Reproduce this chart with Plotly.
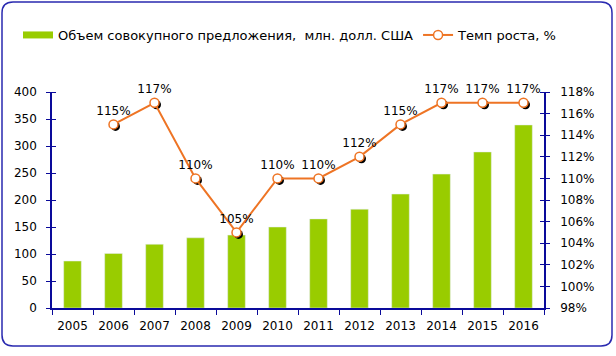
import plotly.graph_objects as go

years = ["2005", "2006", "2007", "2008", "2009", "2010", "2011", "2012", "2013", "2014", "2015", "2016"]
supply = [87, 101, 118, 130, 135, 150, 165, 183, 211, 248, 289, 339]
growth_years = ["2006", "2007", "2008", "2009", "2010", "2011", "2012", "2013", "2014", "2015", "2016"]
growth = [115, 117, 110, 105, 110, 110, 112, 115, 117, 117, 117]
left_ticks = [0, 50, 100, 150, 200, 250, 300, 350, 400]
right_ticks = [98, 100, 102, 104, 106, 108, 110, 112, 114, 116, 118]

W, H = 616, 356
ML, MR, MT, MB = 52, 72, 92, 48
PW, PH = W - ML - MR, H - MT - MB

AX = "#0a0a9a"
FONT = "DejaVu Sans"
BAR = "#99CC00"
LINE = "#EE7424"
BAR_NAME = "Объем совокупного предложения,  млн. долл. США"

dx = 2.0 / (PW / len(years))
dy = 2.0 * 20 / PH
eps_l = 1e-4
eps_r = 1e-6

fig = go.Figure()
fig.add_trace(go.Bar(x=years, y=supply, marker_color=BAR, name=BAR_NAME, showlegend=False,
                     legendgroup="bar"))
# legend swatch for the bars (no data)
fig.add_trace(go.Scatter(x=[None], y=[None], mode="lines", name=BAR_NAME, legendgroup="bar",
                         line=dict(color=BAR, width=7), hoverinfo="skip"))
# shadow markers (shifted axes)
fig.add_trace(go.Scatter(x=growth_years, y=growth, mode="markers", xaxis="x2", yaxis="y2",
                         marker=dict(size=9, color="black"), showlegend=False, hoverinfo="skip"))
fig.add_trace(go.Scatter(x=growth_years, y=growth, mode="lines+markers+text", xaxis="x3", yaxis="y3",
                         name="Темп роста, %",
                         line=dict(color=LINE, width=2),
                         marker=dict(size=9, color="white", line=dict(color=LINE, width=1.5)),
                         text=[f"{v}%" for v in growth], textposition="top center",
                         textfont=dict(family=FONT, size=12, color="black"), cliponaxis=False))

cat = dict(type="category", categoryorder="array", categoryarray=years)
fig.update_layout(
    width=W, height=H,
    margin=dict(l=ML, r=MR, t=MT, b=MB),
    paper_bgcolor="white", plot_bgcolor="white",
    font=dict(family=FONT, size=12, color="black"),
    bargap=0.57,
    showlegend=True,
    legend=dict(orientation="h", x=(562 - ML) / PW, xanchor="right", xref="paper",
                y=(H - MB - 35) / PH, yanchor="middle", yref="paper",
                font=dict(family=FONT, size=13), itemwidth=30, tracegroupgap=0,
                bgcolor="rgba(0,0,0,0)"),
    xaxis=dict(**cat, range=[-0.5, len(years) - 0.5],
               showline=True, linecolor=AX, linewidth=1.5, ticks="outside", tickson="boundaries",
               tickcolor=AX, ticklen=5, showgrid=False, zeroline=False, ticklabelstandoff=6),
    xaxis2=dict(**cat, range=[-0.5 - dx, len(years) - 0.5 - dx], overlaying="x", visible=False),
    xaxis3=dict(**cat, range=[-0.5, len(years) - 0.5], overlaying="x", visible=False),
    yaxis=dict(range=[0, 400], tickvals=left_ticks, showline=True, linecolor=AX, linewidth=1.5,
               ticks="outside", tickcolor=AX, ticklen=4, showgrid=False, zeroline=False,
               ticklabelstandoff=7,
               minor=dict(tickvals=[v + eps_l for v in left_ticks], ticks="inside", ticklen=4,
                          tickcolor=AX, showgrid=False)),
    yaxis2=dict(range=[98 + dy, 118 + dy], overlaying="y", visible=False),
    yaxis3=dict(range=[98, 118], tickvals=right_ticks, ticktext=[f"{v}%" for v in right_ticks],
                overlaying="y", side="right", anchor="x",
                showline=True, linecolor=AX, linewidth=1.5, ticks="outside", tickcolor=AX, ticklen=4,
                showgrid=False, zeroline=False, ticklabelstandoff=8,
                minor=dict(tickvals=[v + eps_r for v in right_ticks], ticks="inside", ticklen=4,
                           tickcolor=AX, showgrid=False)),
)

# rounded border
x0, y0, x1, y1, r = 2, 2, 612, 346, 11
def px(x):
    return (x - ML) / PW
def py(y):
    return (H - MB - y) / PH
path = (f"M {px(x0 + r)},{py(y0)} L {px(x1 - r)},{py(y0)} Q {px(x1)},{py(y0)} {px(x1)},{py(y0 + r)} "
        f"L {px(x1)},{py(y1 - r)} Q {px(x1)},{py(y1)} {px(x1 - r)},{py(y1)} "
        f"L {px(x0 + r)},{py(y1)} Q {px(x0)},{py(y1)} {px(x0)},{py(y1 - r)} "
        f"L {px(x0)},{py(y0 + r)} Q {px(x0)},{py(y0)} {px(x0 + r)},{py(y0)} Z")
fig.add_shape(type="path", path=path, xref="paper", yref="paper",
              line=dict(color="#2a2ab0", width=1.5), layer="below")

fig.write_html("out.html", config={"displayModeBar": False},
               post_script="document.body.style.margin='0';document.body.style.padding='0';")
